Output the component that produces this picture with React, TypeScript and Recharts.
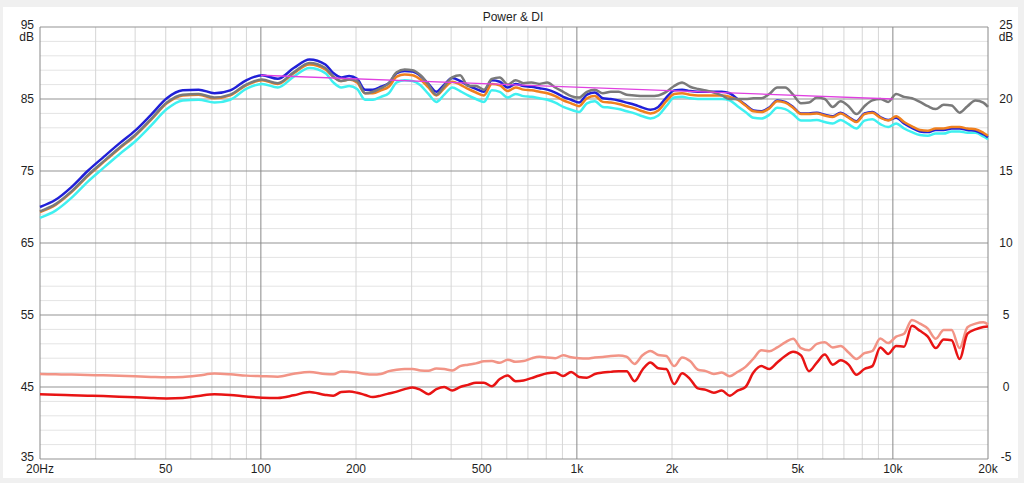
import { LineChart, Line, XAxis, YAxis, ReferenceLine } from "recharts"

// frequency grid: 1/6 octave below 160 Hz, 1/12 octave above
const freq = [
  20, 22.4, 25.2, 28.3, 31.7, 35.6, 40, 44.9, 50.4, 56.6, 63.5, 71.3, 80, 89.8, 100.8, 113.1, 127, 142.5, 160,
  169.5, 179.6, 190.3, 201.6, 213.6, 226.3, 239.7, 254, 269.1, 285.1, 302, 320, 339, 359.2, 380.5, 403.2,
  427.1, 452.5, 479.5, 508, 538.2, 570.2, 604.1, 640, 678, 718.4, 761.1, 806.3, 854.3, 905.1, 958.9,
  1016, 1076, 1140, 1208, 1280, 1356, 1437, 1522, 1613, 1709, 1810, 1918, 2032, 2153, 2281, 2416, 2560,
  2712, 2874, 3044, 3225, 3417, 3620, 3836, 4064, 4306, 4562, 4833, 5120, 5425, 5747, 6089, 6451, 6834,
  7241, 7671, 8128, 8611, 9123, 9665, 10240, 10850, 11490, 12180, 12900, 13670, 14480, 15340, 16260,
  17220, 18250, 19330, 20000,
]

const listeningWindow = [
  70.0, 71.0, 72.8, 75.0, 76.9, 78.8, 80.6, 82.8, 85.1, 86.2, 86.3, 85.8, 86.2, 87.6, 88.3, 87.8, 89.3, 90.5, 89.8,
  88.6, 88.0, 88.2, 87.8, 86.3, 86.3, 86.7, 87.2, 88.6, 88.9, 88.8, 88.2, 87.1, 86.0, 87.0, 87.9, 87.5, 86.9,
  86.4, 86.0, 87.6, 87.4, 86.6, 87.1, 86.8, 86.7, 86.5, 86.3, 85.9, 85.3, 84.9, 84.5,
  85.6, 85.9, 85.1, 85.0, 84.8, 84.5, 84.2, 83.8, 83.5, 83.9, 85.2, 86.2, 86.3, 86.1, 86.0, 86.0, 86.0, 86.0,
  85.8, 85.0, 84.2, 83.4, 83.3, 83.8, 84.8, 84.6, 83.9, 83.0, 83.0, 83.1, 82.8,
  82.6, 83.1, 82.5, 81.9, 83.0, 83.2, 82.5, 82.1, 82.4, 81.6, 81.0, 80.5, 80.4, 80.7, 80.7, 80.9, 80.9, 80.7,
  80.6, 80.1, 79.7,
]

const earlyReflections = [
  69.3, 70.3, 72.1, 74.3, 76.2, 78.1, 79.9, 82.1, 84.4, 85.5, 85.6, 85.1, 85.5, 86.9, 87.6, 87.1, 88.6, 89.8, 89.1,
  88.1, 87.5, 87.7, 87.3, 85.8, 85.8, 86.2, 86.7, 88.1, 88.4, 88.3, 87.7, 86.6, 85.5, 86.5, 87.4, 87.0, 86.4,
  85.9, 85.5, 87.1, 86.9, 86.1, 86.6, 86.3, 86.2, 86.0, 85.8, 85.4, 84.8, 84.4, 84.0,
  85.1, 85.4, 84.6, 84.5, 84.3, 84.0, 83.7, 83.3, 83.0, 83.4, 84.7, 85.7, 85.8, 85.6, 85.5, 85.5, 85.5, 85.5,
  85.3, 84.9, 84.1, 83.3, 83.2, 83.7, 84.7, 84.5, 83.8, 82.9, 82.9, 83.0, 82.7,
  82.5, 83.0, 82.4, 81.8, 82.9, 83.1, 82.4, 82.0, 82.6, 81.8, 81.2, 80.7, 80.6, 80.9, 80.9, 81.1, 81.1, 80.9,
  80.8, 80.3, 79.9,
]

const onAxis = [
  69.4, 70.4, 72.2, 74.4, 76.3, 78.2, 80.0, 82.2, 84.5, 85.6, 85.7, 85.2, 85.6, 87.0, 87.7, 87.2, 88.7, 90.0, 89.3,
  88.1, 87.5, 87.7, 87.5, 85.8, 86.0, 86.5, 87.2, 88.7, 89.1, 89.0, 88.3, 87.0, 85.6, 86.8, 88.0, 88.3, 86.8,
  86.8, 86.3, 87.8, 88.0, 87.0, 87.6, 87.2, 87.3, 87.1, 87.3, 86.6, 86.0, 85.4, 85.2,
  86.0, 86.3, 85.8, 86.0, 86.0, 85.6, 85.5, 85.4, 85.4, 85.5, 86.0, 86.8, 87.3, 86.7, 86.4, 86.2, 85.9, 85.5,
  85.0, 85.0, 85.0, 85.1, 85.1, 85.7, 86.6, 86.6, 85.6, 84.4, 84.5, 85.2, 85.0,
  83.9, 84.7, 84.0, 82.9, 84.0, 84.8, 85.0, 84.6, 85.7, 85.3, 85.1, 84.6, 84.0, 83.6, 84.2, 84.1, 83.1, 84.0,
  84.8, 84.5, 83.9,
]

const soundPower = [
  68.5, 69.5, 71.3, 73.5, 75.4, 77.3, 79.1, 81.3, 83.6, 84.8, 84.9, 84.5, 84.9, 86.4, 87.1, 86.6, 88.1, 89.3, 88.6,
  87.3, 86.6, 86.8, 86.4, 84.9, 84.9, 85.3, 85.8, 87.3, 87.6, 87.5, 86.9, 85.7, 84.6, 85.6, 86.6, 86.1, 85.5,
  85.0, 84.6, 86.2, 86.0, 85.2, 85.7, 85.4, 85.3, 85.1, 84.9, 84.5, 83.9, 83.5, 83.2,
  84.4, 84.7, 83.9, 83.8, 83.6, 83.3, 83.0, 82.6, 82.3, 82.7, 84.0, 85.2, 85.3, 85.1, 85.0, 85.0, 85.0, 85.0,
  84.8, 84.0, 83.2, 82.4, 82.3, 82.8, 83.8, 83.6, 82.9, 82.0, 82.0, 82.1, 81.8,
  81.6, 82.1, 81.5, 80.9, 82.0, 82.2, 81.5, 81.1, 81.6, 80.9, 80.4, 80.0, 79.9, 80.2, 80.2, 80.5, 80.5, 80.3,
  80.3, 79.8, 79.4,
]

// directivity index, right axis
const spDI = [
  0.9, 0.88, 0.86, 0.83, 0.81, 0.78, 0.74, 0.7, 0.67, 0.7, 0.8, 0.93, 0.88, 0.79, 0.75, 0.72, 0.92, 1.05, 0.9,
  0.88, 1.08, 1.05, 1.0, 0.9, 0.86, 0.9, 1.1, 1.2, 1.25, 1.25, 1.15, 1.12, 1.28, 1.25, 1.15, 1.45, 1.55,
  1.64, 1.78, 1.8, 1.68, 1.9, 1.75, 1.8, 1.99, 2.1, 2.05, 2.0, 2.2, 2.06, 2.0,
  1.98, 2.05, 2.08, 2.15, 2.18, 2.1, 1.6, 2.2, 2.5, 2.22, 2.15, 1.45, 2.05, 1.8, 1.2, 1.1, 0.9, 1.0,
  0.75, 1.05, 1.4, 1.97, 2.55, 2.48, 2.75, 3.1, 3.35, 2.7, 2.55, 3.0, 3.1,
  2.75, 2.85, 2.4, 1.95, 2.35, 2.5, 3.36, 3.05, 3.5, 3.7, 4.65, 4.4, 4.05, 3.35, 3.95, 3.95, 2.7, 4.15,
  4.4, 4.5, 4.35,
]

const erDI = [
  -0.51, -0.54, -0.57, -0.6, -0.63, -0.67, -0.71, -0.76, -0.79, -0.76, -0.62, -0.5, -0.55, -0.66, -0.74, -0.76, -0.58, -0.34, -0.55,
  -0.6, -0.35, -0.32, -0.4, -0.55, -0.7, -0.6, -0.45, -0.32, -0.15, -0.03, -0.2, -0.5, -0.15, 0.0, -0.25, 0.0, 0.15,
  0.3, 0.3, 0.05, 0.55, 0.8, 0.4, 0.45, 0.62, 0.8, 0.95, 1.0, 0.76, 1.05, 0.7,
  0.65, 0.9, 1.0, 1.05, 1.1, 1.1, 0.4, 1.2, 1.7, 1.3, 1.25, 0.2, 0.95, 0.55, -0.1, -0.2, -0.4, -0.25,
  -0.6, -0.25, 0.0, 1.0, 1.45, 1.25, 1.7, 2.15, 2.45, 2.2, 1.1, 1.7, 2.25,
  1.55, 1.85, 1.55, 0.85, 1.25, 1.45, 2.75, 2.3, 2.85, 2.8, 4.25, 3.9, 3.5, 2.7, 3.3, 3.25, 1.95, 3.7,
  4.0, 4.17, 4.2,
]

// straight target slope
const targetFreq = [100, 10000]
const targetLevel = [88.3, 85.0]

const xTicks = [20, 50, 100, 200, 500, 1000, 2000, 5000, 10000, 20000]
const xTickLabels = ["20Hz", "50", "100", "200", "500", "1k", "2k", "5k", "10k", "20k"]
const dbTicks = [35, 45, 55, 65, 75, 85, 95]
const diTicks = [-5, 0, 5, 10, 15, 20, 25]
const dbMinor = [37, 39, 41, 43, 47, 49, 51, 53, 57, 59, 61, 63, 67, 69, 71, 73, 77, 79, 81, 83, 87, 89, 91, 93]
const fMinor = [30, 40, 50, 60, 70, 80, 90, 200, 300, 400, 500, 600, 700, 800, 900, 2000, 3000, 4000, 5000, 6000, 7000, 8000, 9000]
const fMajor = [100, 1000, 10000]

const FONT = '"Liberation Sans", Arial, sans-serif'
const TXT = "#1e1e1e"

const data = freq.map((f, i) => ({
  f,
  lw: listeningWindow[i],
  er: earlyReflections[i],
  on: onAxis[i],
  sp: soundPower[i],
  spdi: spDI[i],
  erdi: erDI[i],
}))
const target = targetFreq.map((f, i) => ({ f, t: targetLevel[i] }))

function DbTick({ y, payload }: any) {
  const v = payload.value
  const dy = v === 35 ? -2 : v === 95 ? -2 : 0
  return (
    <g>
      <text x={34} y={y + 4 + dy} textAnchor="end" fontSize={12} fill={TXT} fontFamily={FONT}>
        {v}
      </text>
      {v === 95 && (
        <text x={34} y={y + 14} textAnchor="end" fontSize={12} fill={TXT} fontFamily={FONT}>
          dB
        </text>
      )}
    </g>
  )
}

function DiTick({ y, payload }: any) {
  const v = payload.value
  const dy = v === -5 ? -2 : v === 25 ? -2 : 0
  return (
    <g>
      <text x={1006} y={y + 4 + dy} textAnchor="middle" fontSize={12} fill={TXT} fontFamily={FONT}>
        {v}
      </text>
      {v === 25 && (
        <text x={1006} y={y + 14} textAnchor="middle" fontSize={12} fill={TXT} fontFamily={FONT}>
          dB
        </text>
      )}
    </g>
  )
}

function FreqTick({ x, payload }: any) {
  const i = xTicks.indexOf(payload.value)
  return (
    <text x={x} y={473} textAnchor="middle" fontSize={12} fill={TXT} fontFamily={FONT}>
      {xTickLabels[i]}
    </text>
  )
}

export default function App() {
  return (
    <div
      style={{
        position: "fixed",
        left: 0,
        top: 0,
        width: 1024,
        height: 483,
        background: "#f0f0f0",
        fontFamily: FONT,
        overflow: "hidden",
      }}
    >
      <div style={{ position: "absolute", left: 3, top: 7, width: 1015, height: 471, background: "#ffffff" }} />
      <div
        style={{
          position: "absolute",
          left: 0,
          top: 10,
          width: 1026,
          height: 14,
          lineHeight: "14px",
          textAlign: "center",
          fontSize: 12,
          color: TXT,
        }}
      >
        Power &amp; DI
      </div>
      <div style={{ position: "absolute", left: 0, top: 0 }}>
        <LineChart width={1024} height={483} data={data} margin={{ top: 27, right: 6, bottom: 4, left: 10 }}>
          <XAxis
            dataKey="f"
            type="number"
            scale="log"
            domain={[20, 20000]}
            ticks={xTicks}
            height={20}
            axisLine={false}
            tickLine={false}
            tick={FreqTick}
            interval={0}
          />
          <YAxis
            yAxisId="db"
            domain={[35, 95]}
            ticks={dbTicks}
            width={30}
            axisLine={false}
            tickLine={false}
            tick={DbTick}
            interval={0}
          />
          <YAxis
            yAxisId="di"
            orientation="right"
            domain={[-5, 25]}
            ticks={diTicks}
            width={30}
            axisLine={false}
            tickLine={false}
            tick={DiTick}
            interval={0}
          />

          {dbMinor.map((v) => (
            <ReferenceLine key={"hm" + v} yAxisId="db" y={v} stroke="#e4e4e4" strokeWidth={1} />
          ))}
          {fMinor.map((v) => (
            <ReferenceLine key={"vm" + v} yAxisId="db" x={v} stroke="#d6d6d6" strokeWidth={1} />
          ))}
          {dbTicks.map((v) => (
            <ReferenceLine key={"hM" + v} yAxisId="db" y={v} stroke="#939393" strokeWidth={1} />
          ))}
          {fMajor.map((v) => (
            <ReferenceLine key={"vM" + v} yAxisId="db" x={v} stroke="#888888" strokeWidth={1} />
          ))}
          <ReferenceLine yAxisId="db" x={20} stroke="#888888" />
          <ReferenceLine yAxisId="db" x={20000} stroke="#888888" />

          <Line yAxisId="db" dataKey="sp" type="monotone" stroke="#3ff0f0" strokeWidth={2.5} dot={false} isAnimationActive={false} />
          <Line yAxisId="db" dataKey="lw" type="monotone" stroke="#2020d8" strokeWidth={2.5} dot={false} isAnimationActive={false} />
          <Line yAxisId="db" dataKey="er" type="monotone" stroke="#f0801e" strokeWidth={2.5} dot={false} isAnimationActive={false} />
          <Line yAxisId="db" dataKey="on" type="monotone" stroke="#7a7a7a" strokeWidth={2.5} dot={false} isAnimationActive={false} />
          <Line
            yAxisId="db"
            data={target}
            dataKey="t"
            type="linear"
            stroke="#e040e0"
            strokeWidth={1.3}
            dot={false}
            isAnimationActive={false}
          />
          <Line yAxisId="di" dataKey="spdi" type="monotone" stroke="#f29486" strokeWidth={2.5} dot={false} isAnimationActive={false} />
          <Line yAxisId="di" dataKey="erdi" type="monotone" stroke="#e81414" strokeWidth={2.5} dot={false} isAnimationActive={false} />
        </LineChart>
      </div>
    </div>
  )
}
